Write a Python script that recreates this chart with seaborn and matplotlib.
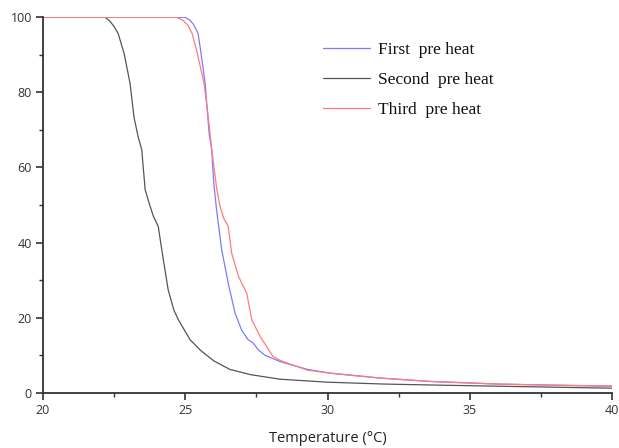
import matplotlib
matplotlib.use("Agg")
import matplotlib.pyplot as plt
import seaborn as sns
import pandas as pd
from matplotlib.ticker import AutoMinorLocator

# ---- data ----
first_x = [20, 25.0, 25.17, 25.3, 25.45, 25.54, 25.7, 25.84, 25.93, 26.0, 26.1, 26.28, 26.51,
           26.75, 26.98, 27.2, 27.39, 27.57, 27.8, 28.33, 29.3, 30.1, 31.85, 33.6, 36, 38, 40]
first_y = [100, 100, 99.2, 98.0, 95.7, 91.2, 82.4, 69, 64.8, 56, 48.8, 38.1, 29.2,
           21.2, 16.7, 14.2, 13.2, 11.4, 10.0, 8.3, 6.2, 5.2, 3.9, 3.0, 2.3, 2.0, 1.7]

second_x = [20, 22.18, 22.35, 22.5, 22.64, 22.85, 23.06, 23.2, 23.35, 23.47, 23.59, 23.75, 23.88,
            24.05, 24.23, 24.40, 24.6, 24.76, 25.17, 25.55, 26.0, 26.57, 27.3, 28.33, 30.0, 32, 34, 37, 40]
second_y = [100, 100, 99, 97.5, 95.7, 90.4, 82.4, 73.3, 68, 64.8, 54.1, 50, 47,
            44.3, 35.4, 27.4, 22, 19.4, 14.1, 11.2, 8.5, 6.2, 4.8, 3.6, 2.8, 2.3, 2.0, 1.6, 1.2]

third_x = [20, 24.7, 24.92, 25.1, 25.24, 25.4, 25.66, 25.8, 25.93, 26.1, 26.22, 26.35, 26.51, 26.63,
           26.87, 27.16, 27.34, 27.63, 27.86, 28.08, 28.33, 28.92, 29.3, 30.1, 31.85, 33.6, 36, 38, 40]
third_y = [100, 100, 99.2, 97.8, 95.7, 91.2, 82.4, 74, 64.8, 54.7, 49.7, 46.5, 44.3, 37.2,
           31.0, 26.5, 19.4, 15.0, 12.3, 9.7, 8.6, 7.0, 6.0, 5.2, 3.9, 3.0, 2.3, 2.0, 1.8]

series_names = ["First  pre heat", "Second  pre heat", "Third  pre heat"]
series_colors = ["#7b7bff", "#555555", "#ff7a7a"]

x_ticks = [20, 25, 30, 35, 40]
y_ticks = [0, 20, 40, 60, 80, 100]
x_label = "Temperature (°C)"

frames = []
for name, xs, ys in zip(series_names, [first_x, second_x, third_x], [first_y, second_y, third_y]):
    frames.append(pd.DataFrame({"T": xs, "P": ys, "series": name}))
df = pd.concat(frames, ignore_index=True)

sns.set_style("ticks")
plt.rcParams['font.family'] = ['Open Sans', 'DejaVu Sans']

fig = plt.figure(figsize=(6.19, 4.48), dpi=100)
ax = fig.add_axes([43/619, 1 - 392.7/448, (612 - 43)/619, (392.7 - 17.3)/448])

sns.lineplot(data=df, x="T", y="P", hue="series", hue_order=series_names,
             palette=dict(zip(series_names, series_colors)), estimator=None,
             linewidth=0.9, ax=ax, legend=True)

ax.set_xlim(20, 40)
ax.set_ylim(0, 100)
ax.set_xticks(x_ticks)
ax.set_yticks(y_ticks)
ax.xaxis.set_minor_locator(AutoMinorLocator(2))
ax.yaxis.set_minor_locator(AutoMinorLocator(2))
ax.tick_params(which="major", direction="out", length=5, width=1.2, color="#333333",
               labelsize=9, labelcolor="#333333", pad=3)
ax.tick_params(which="minor", direction="out", length=3, width=1.0, color="#333333")
for s in ["top", "right"]:
    ax.spines[s].set_visible(False)
for s in ["left", "bottom"]:
    ax.spines[s].set_color("#333333")
    ax.spines[s].set_linewidth(1.3)

ax.set_xlabel(x_label, fontsize=10.5, color="#222222", labelpad=10)
ax.set_ylabel("")

leg = ax.legend(frameon=False, loc="upper left", bbox_to_anchor=(323/619, 1 - 42/448),
                bbox_transform=fig.transFigure, borderaxespad=0, borderpad=0,
                handlelength=2.7, handletextpad=0.45, labelspacing=0.8,
                prop={"family": ["Liberation Serif"], "size": 12.5})
for t in leg.get_texts():
    t.set_color("#111111")

fig.savefig("out.png", dpi=100, facecolor="white")
